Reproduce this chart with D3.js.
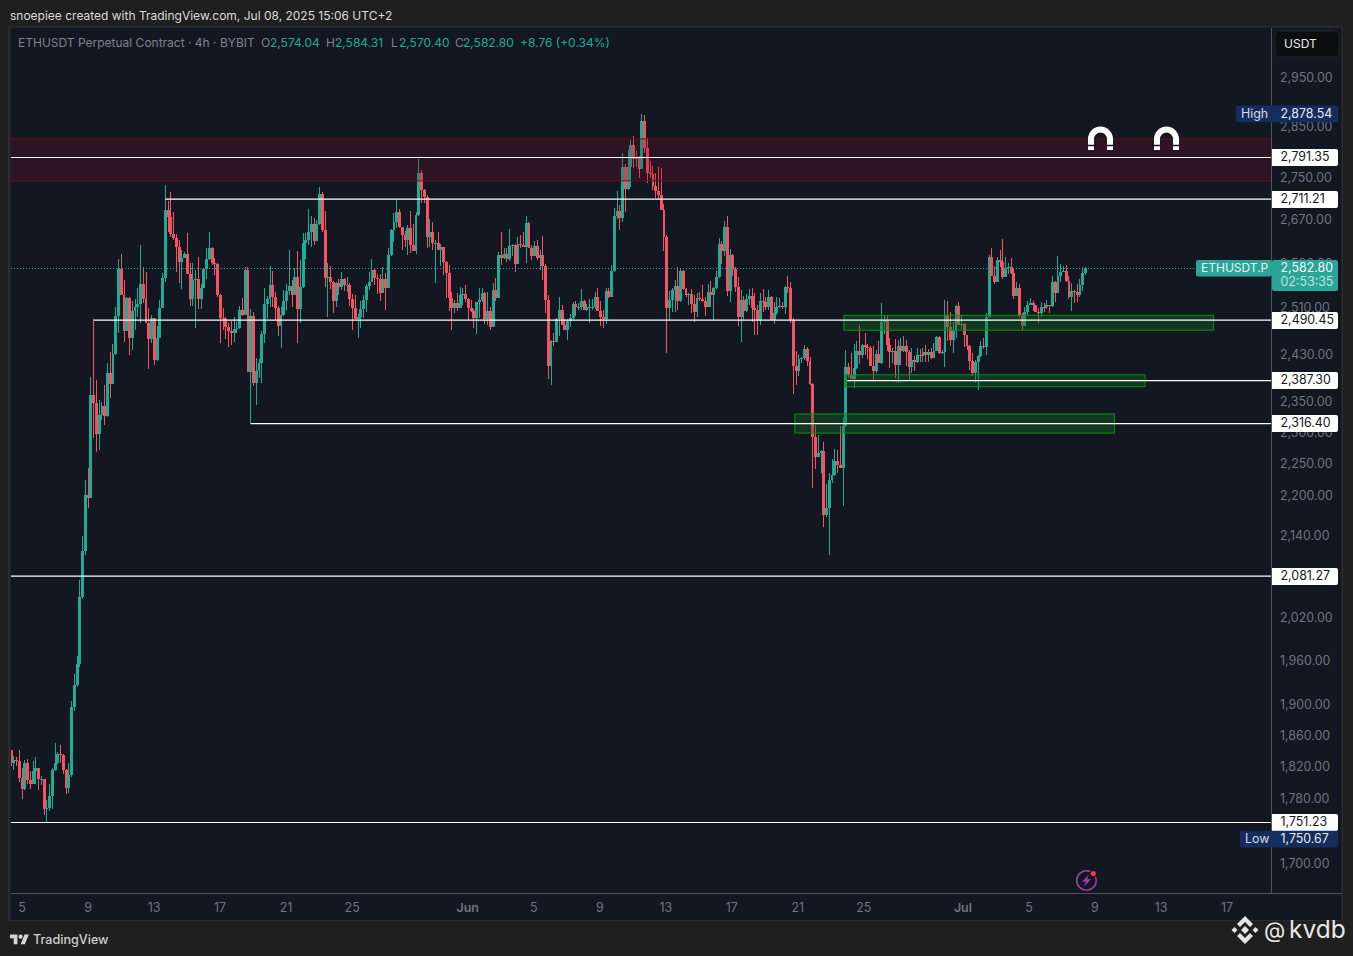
<!DOCTYPE html>
<html><head><meta charset="utf-8">
<script src="https://cdnjs.cloudflare.com/ajax/libs/d3/7.8.5/d3.min.js"></script>
<style>
html,body{margin:0;padding:0;background:#1f1f1f;overflow:hidden}
svg{display:block}
text{font-family:Inter,"Noto Sans",sans-serif}
.ax text{fill:#70747e;font-size:12.4px}
.ax path,.ax line{display:none}
</style></head><body>
<svg id="c" width="1353" height="956"></svg>
<script>
// ---- 4h candles (open of each candle = previous close) ----
const firstOpen = 1842;
const closes = [1826,1830,1829,1807,1793,1826,1804,1799,1815,1819,1805,1805,1768,1769,1784,1817,1826,1837,1836,1817,1794,1811,1899,1928,1957,2051,2118,2203,2199,
2363,2350,2300,2330,2345,2329,2400,2382,2432,2498,2582,2535,2472,2530,2460,2507,2514,2519,2554,2528,2486,
2458,2494,2422,2460,2512,2565,2691,2677,2645,2638,2622,2594,2601,2609,2573,2528,2562,2564,2528,2547,
2582,2600,2620,2592,2591,2535,2494,2493,2479,2472,2468,2475,2476,2508,2500,2580,2402,2498,2383,2404,
2417,2467,2519,2528,2553,2531,2512,2481,2500,2524,2542,2551,2535,2567,2510,2549,2629,2634,2649,2664,
2633,2664,2721,2653,2565,2567,2558,2524,2556,2549,2564,2553,2553,2528,2512,2493,2496,2510,2526,2551,
2558,2580,2565,2564,2538,2564,2547,2607,2653,2668,2687,2659,2643,2634,2657,2625,2614,2681,2761,2729,
2715,2640,2649,2629,2629,2616,2622,2594,2574,2530,2512,2521,2512,2535,2537,2528,2512,2507,2494,2522,
2526,2538,2493,2507,2479,2544,2530,2607,2601,2609,2600,2623,2625,2591,2627,2625,2622,2666,2620,2605,
2623,2601,2607,2587,2526,2412,2454,2453,2493,2508,2482,2474,2489,2494,2519,2514,2514,2524,2508,2514,
2514,2514,2531,2507,2496,2493,2542,2531,2578,2679,2689,2675,2773,2730,2773,2816,2789,2791,2769,2864,
2810,2761,2760,2736,2727,2719,2691,2640,2512,2526,2544,2551,2524,2578,2546,2535,2537,2519,2505,2530,
2528,2524,2514,2540,2535,2547,2567,2627,2614,2659,2542,2607,2582,2549,2496,2526,2507,2528,2533,2512,
2508,2491,2524,2523,2514,2531,2491,2503,2514,2515,2513,2549,2547,2491,2412,2404,2424,2425,2441,2420,
2382,2295,2263,2269,2272,2172,2183,2226,2234,2256,2250,2245,2312,2410,2397,2390,2409,2437,2431,2448,
2444,2443,2412,2404,2432,2417,2487,2489,2448,2436,2437,2414,2446,2437,2446,2436,2410,2422,2419,2431,
2429,2436,2431,2436,2425,2437,2461,2434,2436,2500,2479,2456,2474,2515,2482,2484,2465,2446,2420,2400,
2419,2429,2446,2444,2496,2603,2569,2558,2598,2594,2567,2583,2585,2574,2533,2547,2498,2481,2505,2517,
2521,2517,2505,2503,2514,2513,2517,2515,2558,2538,2569,2576,2578,2560,2531,2542,2541,2535,2553,2574,2582.80];
const highs = [1842,1835,1833,1842,1819,1830,1831,1816,1829,1834,1820,1809,1805,1779,1799,1819,1851,1840,1849,1838,1818,1826,1907,1943,1968,2076,2141,2226,2245,
2393,2493,2388,2355,2352,2380,2417,2436,2449,2514,2600,2609,2562,2531,2531,2524,2528,2547,2625,2585,2576,
2512,2500,2494,2481,2526,2574,2738,2708,2725,2687,2645,2634,2616,2612,2647,2592,2592,2580,2603,2554,
2583,2620,2649,2622,2601,2592,2537,2512,2496,2486,2489,2496,2487,2515,2530,2585,2585,2510,2505,2425,
2424,2472,2547,2533,2587,2578,2540,2515,2514,2544,2554,2616,2562,2583,2614,2598,2647,2647,2693,2679,
2675,2672,2734,2725,2689,2592,2587,2560,2558,2564,2576,2565,2567,2556,2537,2535,2501,2524,2535,2554,
2576,2600,2583,2573,2573,2585,2574,2620,2655,2685,2710,2693,2659,2651,2662,2689,2664,2687,2789,2767,
2730,2719,2674,2668,2634,2649,2627,2622,2596,2589,2540,2526,2538,2549,2547,2553,2530,2526,2510,2523,
2547,2547,2540,2540,2514,2556,2565,2612,2649,2620,2620,2655,2627,2627,2640,2643,2649,2679,2668,2625,
2633,2634,2616,2641,2591,2535,2456,2468,2494,2531,2517,2493,2493,2501,2522,2524,2521,2546,2526,2519,
2528,2528,2540,2547,2524,2508,2547,2547,2589,2694,2727,2700,2800,2779,2806,2826,2834,2804,2795,2878.54,
2876,2830,2785,2775,2761,2773,2771,2702,2643,2542,2547,2562,2585,2583,2580,2547,2538,2546,2535,2538,
2540,2553,2531,2554,2560,2549,2578,2638,2633,2670,2679,2618,2609,2585,2567,2544,2533,2537,2546,2547,
2538,2517,2538,2546,2531,2544,2533,2522,2531,2530,2522,2551,2569,2558,2494,2437,2432,2427,2448,2444,
2427,2383,2314,2298,2274,2287,2220,2237,2260,2276,2274,2312,2325,2439,2417,2434,2449,2454,2482,2449,
2468,2449,2446,2446,2439,2454,2521,2500,2498,2460,2443,2458,2456,2460,2463,2456,2439,2443,2429,2443,
2441,2443,2448,2441,2443,2451,2463,2463,2439,2526,2524,2505,2487,2517,2522,2500,2486,2465,2448,2434,
2422,2431,2454,2460,2503,2607,2620,2587,2603,2616,2636,2603,2592,2601,2583,2558,2554,2503,2514,2524,
2530,2524,2517,2512,2522,2521,2526,2517,2569,2560,2605,2591,2587,2589,2569,2556,2544,2554,2564,2585,2584.31];
const lows = [1822,1817,1822,1802,1780,1792,1799,1793,1799,1799,1792,1798,1760,1750.67,1765,1768,1815,1825,1826,1812,1786,1788,1808,1894,1926,1953,2049,2112,2183,
2202,2293,2271,2274,2322,2314,2327,2358,2382,2431,2468,2535,2453,2472,2431,2439,2474,2496,2486,2521,2486,
2407,2451,2414,2420,2460,2512,2558,2650,2640,2634,2576,2556,2546,2601,2573,2515,2515,2477,2510,2510,
2547,2564,2598,2589,2571,2531,2451,2474,2458,2444,2448,2453,2468,2475,2498,2500,2402,2316,2378,2347,
2392,2383,2451,2493,2514,2514,2491,2463,2443,2498,2508,2535,2514,2535,2451,2486,2547,2600,2625,2622,
2625,2633,2662,2649,2549,2496,2546,2503,2514,2535,2544,2542,2540,2515,2474,2493,2460,2477,2494,2505,
2544,2558,2553,2537,2524,2538,2508,2547,2605,2631,2657,2657,2616,2622,2607,2611,2614,2609,2679,2704,
2704,2620,2622,2616,2556,2616,2587,2571,2530,2507,2474,2503,2507,2512,2517,2522,2491,2505,2477,2467,
2494,2522,2484,2482,2474,2479,2524,2530,2589,2600,2594,2596,2605,2576,2591,2620,2622,2592,2620,2598,
2605,2598,2580,2562,2503,2390,2380,2446,2453,2463,2482,2474,2456,2479,2491,2498,2508,2508,2508,2507,
2486,2508,2510,2507,2481,2477,2484,2530,2531,2576,2673,2653,2668,2687,2729,2734,2771,2773,2752,2769,
2800,2742,2752,2729,2713,2711,2691,2614,2434,2491,2505,2505,2508,2522,2544,2531,2517,2503,2487,2496,
2524,2522,2498,2514,2514,2491,2546,2565,2591,2605,2533,2522,2569,2540,2481,2453,2491,2505,2517,2487,
2465,2465,2482,2505,2508,2508,2491,2484,2500,2512,2510,2501,2538,2486,2365,2380,2395,2417,2422,2412,
2380,2214,2244,2263,2237,2154,2170,2112,2222,2233,2237,2245,2186,2311,2392,2390,2375,2407,2415,2425,
2431,2424,2412,2385,2400,2417,2415,2467,2437,2409,2417,2392,2383,2414,2436,2412,2388,2400,2404,2417,
2419,2419,2419,2419,2424,2425,2437,2432,2432,2410,2454,2446,2434,2460,2482,2475,2444,2439,2405,2395,
2383,2372,2427,2441,2431,2496,2569,2554,2558,2585,2564,2567,2573,2573,2528,2533,2496,2474,2481,2500,
2517,2507,2505,2486,2496,2505,2510,2503,2514,2522,2538,2558,2576,2558,2528,2507,2521,2522,2531,2542,2570.40];

// ---- horizontal levels and their starting candle ----
const levelPrices = [2791.35,2711.21,2490.45,2387.30,2316.40,2081.27,1751.23];
const levelStarts = [-2,56,30,303.5,87,-2,-2];
// ---- zones: price top, price bottom, first candle, last candle ----
const zoneTops    = [2828,2499,2397,2332];
const zoneBottoms = [2746,2473,2377,2301];
const zoneStarts  = [-2,302.3,302.7,284.5];
const zoneEnds    = [470,436.5,411.6,400.5];
const zoneKinds   = ["red","green","green","green"];
// ---- axes ----
const yTicks = [2950,2850,2750,2670,2590,2510,2430,2350,2300,2250,2200,2140,2020,1960,1900,1860,1820,1780,1700];
const xTickDates = ["2025-05-05","2025-05-09","2025-05-13","2025-05-17","2025-05-21","2025-05-25","2025-06-01","2025-06-05","2025-06-09","2025-06-13","2025-06-17","2025-06-21","2025-06-25","2025-07-01","2025-07-05","2025-07-09","2025-07-13","2025-07-17"];
const xTickLabels = ["5","9","13","17","21","25","Jun","5","9","13","17","21","25","Jul","5","9","13","17"];
const lastPrice = 2582.80, seriesHigh = 2878.54, seriesLow = 1750.67;

const UP="#22ab94", DOWN="#f7525f";
const svg=d3.select("#c");
const y=d3.scaleLog().domain([1751.23,2791.35]).range([822.5,157.5]);
const x=d3.scaleLinear().domain([0,closes.length-1]).range([11.05,1085.5]);
const xt=d3.scaleUtc().domain([new Date("2025-05-05T00:00Z"),new Date("2025-07-17T00:00Z")]).range([21.5,1226.5]);

// panel
svg.append("rect").attr("x",8).attr("y",26).attr("width",1335).attr("height",895).attr("fill","#2b2c2e");
svg.append("rect").attr("x",10.5).attr("y",27.5).attr("width",1331).attr("height",892.5).attr("fill","#131722");
svg.append("defs").append("clipPath").attr("id","plot").append("rect").attr("x",11).attr("y",28).attr("width",1260).attr("height",865);
const plot=svg.append("g").attr("clip-path","url(#plot)");

// candles
const candles=closes.map((c,i)=>({i,o:i?closes[i-1]:firstOpen,c,h:highs[i],l:lows[i]}));
plot.append("g").selectAll("line").data(candles).join("line")
 .attr("x1",d=>x(d.i)).attr("x2",d=>x(d.i)).attr("y1",d=>y(d.h)).attr("y2",d=>y(d.l))
 .attr("stroke",d=>d.c>=d.o?UP:DOWN).attr("stroke-width",1).attr("shape-rendering","crispEdges");
plot.append("g").selectAll("rect").data(candles).join("rect")
 .attr("x",d=>x(d.i)-1.45).attr("width",2.9)
 .attr("y",d=>Math.min(y(d.o),y(d.c))).attr("height",d=>Math.max(1,Math.abs(y(d.o)-y(d.c))))
 .attr("fill",d=>d.c>=d.o?UP:DOWN).attr("shape-rendering","crispEdges");

// last price dotted line
plot.append("line").attr("x1",11).attr("x2",1196).attr("y1",268.5).attr("y2",268.5)
 .attr("stroke","#22ab94").attr("stroke-width",1).attr("stroke-dasharray","1 2").attr("shape-rendering","crispEdges");

// zones
plot.append("g").selectAll("rect").data(zoneTops.map((t,k)=>({t,b:zoneBottoms[k],s:zoneStarts[k],e:zoneEnds[k],kind:zoneKinds[k]}))).join("rect")
 .attr("x",d=>x(d.s)).attr("width",d=>x(d.e)-x(d.s)).attr("y",d=>y(d.t)).attr("height",d=>y(d.b)-y(d.t))
 .attr("fill",d=>d.kind==="red"?"rgba(130,14,40,.24)":"rgba(14,110,30,.38)")
 .attr("stroke",d=>d.kind==="red"?"#651319":"#0b8f10").attr("stroke-width",1);

// levels
plot.append("g").selectAll("line").data(levelPrices).join("line")
 .attr("x1",(d,k)=>x(levelStarts[k])).attr("x2",1271).attr("y1",d=>y(d)).attr("y2",d=>y(d))
 .attr("stroke","#ffffff").attr("stroke-width",1.2);

// axis separators
svg.append("line").attr("x1",1271.5).attr("x2",1271.5).attr("y1",28).attr("y2",893).attr("stroke","#50535e");
svg.append("line").attr("x1",11).attr("x2",1342).attr("y1",893.5).attr("y2",893.5).attr("stroke","#50535e");

// axes
svg.append("g").attr("class","ax").attr("transform","translate(1280,-1.2)")
 .call(d3.axisRight(y).tickValues(yTicks).tickSize(0).tickPadding(0).tickFormat(d3.format(",.2f")));
const xDates=xTickDates.map(d=>new Date(d+"T00:00Z"));
svg.append("g").attr("class","ax").attr("transform","translate(0,903)")
 .call(d3.axisBottom(xt).tickValues(xDates).tickSize(0).tickPadding(0).tickFormat((d,k)=>xTickLabels[k]))
 .selectAll("text").attr("font-weight",(d,k)=>/[A-Z]/.test(xTickLabels[k])?600:null);

// price labels
const fmt=d3.format(",.2f");
const tags=svg.append("g");
levelPrices.forEach(p=>{
  const yy=Math.floor(y(p));
  tags.append("path").attr("d",`M1272 ${yy-8}H1336a2 2 0 0 1 2 2V${yy+7}a2 2 0 0 1 -2 2H1272Z`).attr("fill","#ffffff");
  tags.append("text").attr("x",1280.5).attr("y",yy+4.2).attr("font-size",12.4).attr("fill","#131722").text(fmt(p));
});
function extreme(label,p,left,cy){
  tags.append("rect").attr("x",left).attr("y",cy-8.4).attr("width",1338-left).attr("height",16.8).attr("rx",2).attr("fill","#152c5f");
  tags.append("text").attr("x",left+5).attr("y",cy+4.2).attr("font-size",12.4).attr("fill","#d8dbe2").text(label);
  tags.append("text").attr("x",1280.5).attr("y",cy+4.2).attr("font-size",12.4).attr("fill","#e8eaf0").text(fmt(p));
}
extreme("High",seriesHigh,1236,113.8);
extreme("Low",seriesLow,1240,839.2);
// last price tag
const ly=Math.round(y(lastPrice));
tags.append("rect").attr("x",1196).attr("y",ly-8).attr("width",76).attr("height",16.6).attr("rx",2).attr("fill","#2ba598");
tags.append("rect").attr("x",1272).attr("y",ly-8).attr("width",66).attr("height",31).attr("rx",2).attr("fill","#2ba598");
tags.append("text").attr("x",1201).attr("y",ly+4.2).attr("font-size",12).attr("fill","#e6f5f3").text("ETHUSDT.P");
tags.append("text").attr("x",1280.5).attr("y",ly+4.2).attr("font-size",12.4).attr("fill","#f2fbfa").text(fmt(lastPrice));
tags.append("text").attr("x",1280.5).attr("y",ly+18).attr("font-size",12.4).attr("fill","#bfe4df").text("02:53:35");

// USDT button
svg.append("rect").attr("x",1275).attr("y",31).attr("width",64).attr("height",26).attr("rx",5).attr("fill","#0c0d0f").attr("stroke","#33363d").attr("stroke-dasharray","1 1");
svg.append("text").attr("x",1284).attr("y",48).attr("font-size",12).attr("fill","#e8e8e8").text("USDT");

// header + legend
svg.append("text").attr("x",10).attr("y",20).attr("font-size",12).attr("fill","#dcdcdc").text("snoepiee created with TradingView.com, Jul 08, 2025 15:06 UTC+2");
const lg=(t,xx,c)=>svg.append("text").attr("x",xx).attr("y",47).attr("font-size",12).attr("fill",c).text(t);
const G="#7f838d",T="#22ab94";
lg("ETHUSDT Perpetual Contract · 4h · BYBIT",18,G);
lg("O",261,G);lg("2,574.04",270,T);
lg("H",326,G);lg("2,584.31",335,T);
lg("L",391,G);lg("2,570.40",399,T);
lg("C",455,G);lg("2,582.80",463,T);
lg("+8.76 (+0.34%)",520,T);

// magnets
[1100.5,1166.5].forEach(cx=>{
  const m=svg.append("g").attr("transform",`translate(${cx},0)`);
  m.append("path").attr("d","M-9.5 150V139a9.5 9.5 0 0 1 19 0V150").attr("fill","none").attr("stroke","#fff").attr("stroke-width",6);
  m.append("path").attr("d","M-13 145.5H-6M6 145.5H13").attr("stroke","#131722").attr("stroke-width",1.4);
});

// lightning badge
const b=svg.append("g").attr("transform","translate(1086.5,880.5)");
b.append("circle").attr("r",9.8).attr("fill","none").attr("stroke","#a03eb0").attr("stroke-width",1.6);
b.append("path").attr("d","M2.5 -6L-4.5 1.2H-0.6L-2.5 6L4.5 -1.2H0.6Z").attr("fill","#a03eb0");
b.append("circle").attr("cx",6.8).attr("cy",-7).attr("r",3.6).attr("fill","#131722");
b.append("circle").attr("cx",6.8).attr("cy",-7).attr("r",2.6).attr("fill","#f23645");

// footer logo
svg.append("g").attr("transform","translate(10,932.5) scale(.53)").attr("fill","#d4d4d4").call(g=>{
  g.append("path").attr("d","M14 22H7V11H0V4h14v18zM28 22h-8l7.5-18h8L28 22z");
  g.append("circle").attr("cx",20).attr("cy",8).attr("r",4);
});
svg.append("text").attr("x",33).attr("y",944).attr("font-size",12.6).attr("font-weight",500).attr("fill","#cfcfcf").text("TradingView");

// watermark
const w=svg.append("g").attr("transform","translate(1245,930)").attr("fill","#e4e4e4");
["M0 -4L4 0L0 4L-4 0Z","M-10.5 -3L-7.5 0L-10.5 3L-13.5 0Z","M10.5 -3L13.5 0L10.5 3L7.5 0Z","M0 -14L8 -6L5 -3L0 -8L-5 -3L-8 -6Z","M0 14L8 6L5 3L0 8L-5 3L-8 6Z"].forEach(p=>w.append("path").attr("d",p));
svg.append("text").attr("x",1264).attr("y",938).attr("font-size",22).attr("fill","#e8e8e8").text("@");
svg.append("text").attr("x",1289).attr("y",938).attr("font-size",24.5).attr("fill","#e8e8e8").text("kvdb");
</script>
</body></html>
